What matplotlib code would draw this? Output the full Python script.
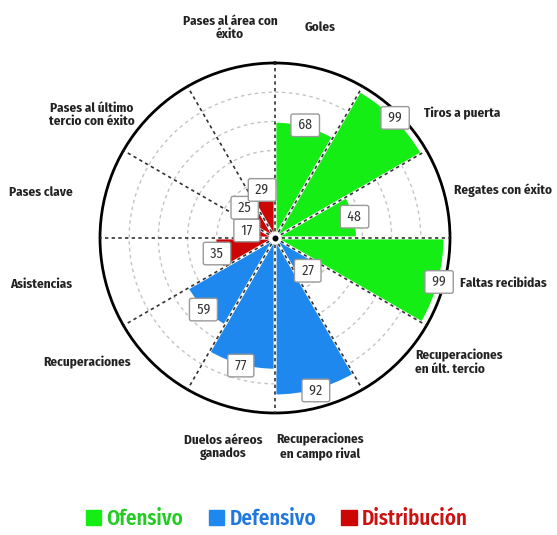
import numpy as np
import matplotlib
matplotlib.use("Agg")
import matplotlib.pyplot as plt
from matplotlib.patches import Patch

# ---- data ----
categories = [
    "Goles", "Tiros a puerta", "Regates con éxito", "Faltas recibidas",
    "Recuperaciones\nen últ. tercio", "Recuperaciones\nen campo rival",
    "Duelos aéreos\nganados", "Recuperaciones", "Asistencias", "Pases clave",
    "Pases al último\ntercio con éxito", "Pases al área con\néxito",
]
values = [68, 99, 48, 99, 27, 92, 77, 59, 35, 17, 25, 29]
groups = ["Ofensivo"] * 4 + ["Defensivo"] * 4 + ["Distribución"] * 4
group_names = ["Ofensivo", "Defensivo", "Distribución"]

# ---- style ----
bar_colors = {"Ofensivo": "#14ee14", "Defensivo": "#1e88ee", "Distribución": "#cc0505"}
legend_colors = ["#22cc22", "#2277dd", "#cc1111"]
FONT = ["Fira Sans Condensed", "DejaVu Sans"]
plt.rcParams["font.family"] = FONT

# label placement: pixel offsets from the centre (y down), alignment
label_pos = [
    (45, -211, "center"), (187, -125, "center"), (228, -48, "center"),
    (228, 45, "center"), (140, 124, "left"), (45, 209, "center"),
    (-52, 209, "center"), (-188, 124, "center"), (-234, 46, "center"),
    (-234, -46, "center"), (-183, -123, "center"), (-45, -210, "center"),
]

RMAX = 102
n = len(values)
width = 2 * np.pi / n
theta = np.arange(n) * width + width / 2

fig = plt.figure(figsize=(5.57, 5.35), dpi=100)
ax = fig.add_axes([100 / 557, 122 / 535, 350 / 557, 350 / 535], projection="polar")
ax.set_theta_zero_location("N")
ax.set_theta_direction(-1)
ax.set_ylim(0, RMAX)
ax.set_xticks([])
ax.set_yticks([])
ax.grid(False)
ax.spines["polar"].set_linewidth(2)
ax.spines["polar"].set_color("black")

# dashed grey rings
ring_t = np.linspace(0, 2 * np.pi, 400)
for r in np.arange(1, 6) * RMAX / 6:
    ax.plot(ring_t, np.full_like(ring_t, r), color="#c4c4c4", lw=1,
            ls=(0, (2.5, 2.5)), zorder=1)

ax.bar(theta, values, width=width, bottom=0,
       color=[bar_colors[g] for g in groups], edgecolor="white",
       linewidth=2, zorder=2)

# spokes
for a in np.arange(n) * width:
    ax.plot([a, a], [0, RMAX], color="#333333", lw=1.2, ls=(0, (2, 2)), zorder=3)

ax.scatter([0], [0], s=40, color="black", edgecolor="white", linewidth=2, zorder=5)

# value boxes
for t, v in zip(theta, values):
    ax.text(t, v, f" {v} ", ha="center", va="center", fontsize=10, color="#333333",
            zorder=6,
            bbox=dict(boxstyle="round,pad=0.3,rounding_size=0.15", fc="white",
                      ec="#999999", lw=1))

# category labels
for lab, (dx, dy, ha) in zip(categories, label_pos):
    ax.text(0.5 + dx / 350, 0.5 - dy / 350, lab, transform=ax.transAxes,
            ha=ha, va="center", multialignment=ha,
            fontsize=9.5, fontweight="bold", color="#222222", linespacing=1.1)

handles = [Patch(color=c) for c in [bar_colors[g] for g in group_names]]
fig.legend(handles, group_names, loc="center", bbox_to_anchor=(0.497, 0.03),
           ncol=3, frameon=False, handlelength=0.75, handleheight=0.75,
           handletextpad=0.25, columnspacing=1.2,
           labelcolor=legend_colors,
           prop={"family": FONT, "weight": "semibold", "size": 15})

fig.savefig("out.png", dpi=100)
